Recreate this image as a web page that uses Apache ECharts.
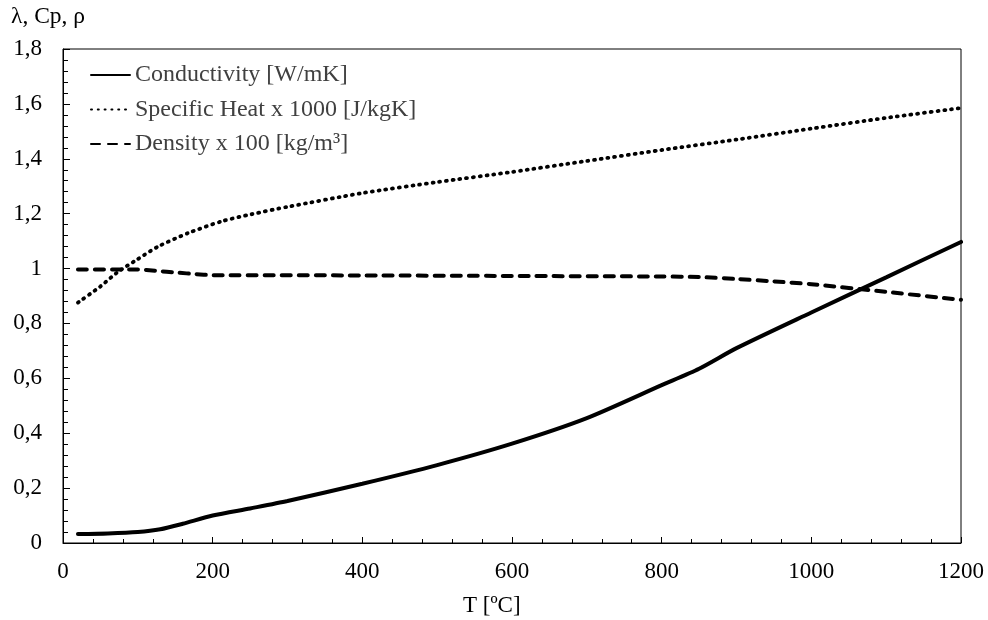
<!DOCTYPE html>
<html>
<head>
<meta charset="utf-8">
<script src="https://cdn.jsdelivr.net/npm/echarts@6/dist/echarts.min.js"></script>
<style>html,body{margin:0;padding:0;background:#fff}#c{width:988px;height:620px}</style>
</head>
<body>
<div id="c"></div>
<script>
var condT = [20, 60, 100, 130, 160, 200, 250, 300, 400, 500, 600, 700, 800, 850, 900, 1000, 1100, 1200];
var condV = [0.033, 0.035, 0.04, 0.05, 0.07, 0.10, 0.126, 0.153, 0.216, 0.284, 0.362, 0.455, 0.575, 0.635, 0.71, 0.84, 0.968, 1.097];
var cpT = [20, 50, 72, 98, 127, 167, 212, 252, 300, 400, 500, 600, 700, 800, 900, 1000, 1100, 1200];
var cpV = [0.876, 0.935, 0.985, 1.031, 1.08, 1.129, 1.172, 1.198, 1.225, 1.275, 1.315, 1.352, 1.392, 1.432, 1.47, 1.51, 1.549, 1.585];
var rhoT = [20, 100, 123, 154, 176, 200, 400, 600, 800, 850, 900, 950, 1000, 1100, 1200];
var rhoV = [0.997, 0.997, 0.992, 0.985, 0.98, 0.976, 0.975, 0.973, 0.971, 0.969, 0.962, 0.953, 0.943, 0.915, 0.886];
var seriesNames = ['Conductivity [W/mK]', 'Specific Heat x 1000 [J/kgK]', 'Density x 100 [kg/m³]'];
var xTicks = [0, 200, 400, 600, 800, 1000, 1200];
var yAxisTitle = 'λ, Cp, ρ';
var xAxisTitle = 'T [ºC]';

function pairs(t, v) { return t.map(function (x, i) { return [x, v[i]]; }); }
var FONT = '"Liberation Serif", "Times New Roman", serif';
var chart = echarts.init(document.getElementById('c'), null, {renderer: 'canvas'});
chart.setOption({
  animation: false,
  backgroundColor: '#fff',
  title: {text: yAxisTitle, left: 11, top: 5, padding: 0, textStyle: {fontFamily: FONT, fontSize: 23.5, fontWeight: 'normal', color: '#000'}},
  graphic: [{type: 'text', left: 463, top: 594, style: {text: xAxisTitle, font: '23px ' + FONT, fill: '#000'}}],
  grid: {left: 63, right: 27, top: 49, bottom: 77, show: true, borderColor: '#000', borderWidth: 1, containLabel: false},
  legend: {
    orient: 'vertical', left: 90, top: 62, padding: 0,
    itemWidth: 39, itemHeight: 14, itemGap: 8.5,
    data: seriesNames,
    itemStyle: {opacity: 0},
    textStyle: {fontFamily: FONT, fontSize: 24, color: '#404040', lineHeight: 26}
  },
  xAxis: {
    type: 'value', min: 0, max: 1200, interval: 200,
    axisLine: {lineStyle: {color: '#000', width: 1}},
    axisTick: {inside: true, length: 6, lineStyle: {color: '#000'}},
    minorTick: {show: true, splitNumber: 5, length: 4, lineStyle: {color: '#000'}},
    splitLine: {show: false},
    axisLabel: {margin: 17, fontFamily: FONT, fontSize: 23, color: '#000',
      formatter: function (v) { return xTicks.indexOf(v) >= 0 ? String(v) : ''; }}
  },
  yAxis: {
    type: 'value', min: 0, max: 1.8, interval: 0.2,
    axisLine: {show: true, lineStyle: {color: '#000', width: 1}},
    axisTick: {show: true, inside: true, length: 7, lineStyle: {color: '#000'}},
    minorTick: {show: true, splitNumber: 5, length: 5, lineStyle: {color: '#000'}},
    splitLine: {show: false},
    axisLabel: {margin: 21, fontFamily: FONT, fontSize: 23, color: '#000',
      formatter: function (v) { return String(Math.round(v * 10) / 10).replace('.', ','); }}
  },
  series: [
    {name: seriesNames[0], type: 'line', data: pairs(condT, condV), smooth: 0.25, symbol: 'none',
      lineStyle: {color: '#000', width: 4, type: 'solid', cap: 'round'}, itemStyle: {color: '#000'}},
    {name: seriesNames[1], type: 'line', data: pairs(cpT, cpV), smooth: 0.25, symbol: 'none',
      lineStyle: {color: '#000', width: 3.8, type: [1, 5.8], cap: 'round'}, itemStyle: {color: '#000'}},
    {name: seriesNames[2], type: 'line', data: pairs(rhoT, rhoV), smooth: 0.25, symbol: 'none',
      lineStyle: {color: '#000', width: 4, type: [9, 8], cap: 'round'}, itemStyle: {color: '#000'}}
  ]
});
</script>
</body>
</html>
